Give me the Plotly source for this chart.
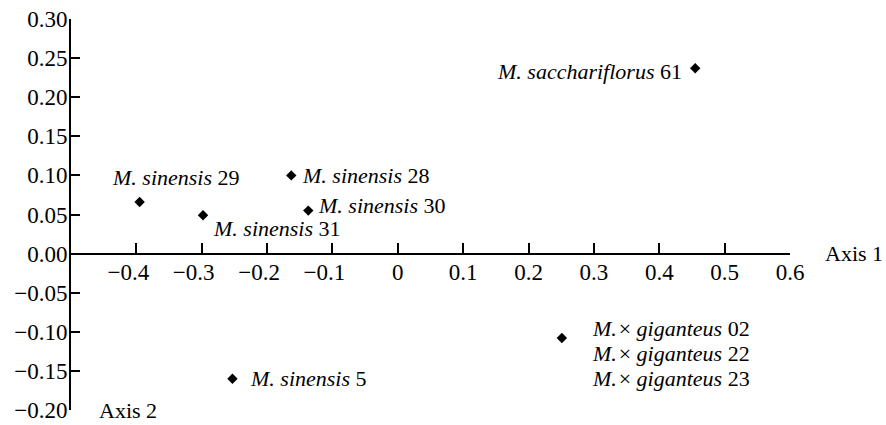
import plotly.graph_objects as go

# ---- data ----
axis1_scores = [0.455, -0.395, -0.163, -0.137, -0.298, -0.253, 0.251]
axis2_scores = [0.237, 0.066, 0.100, 0.055, 0.049, -0.160, -0.108]
point_labels = [
    ["<i>M. sacchariflorus</i> 61"],
    ["<i>M. sinensis</i> 29"],
    ["<i>M. sinensis</i> 28"],
    ["<i>M. sinensis</i> 30"],
    ["<i>M. sinensis</i> 31"],
    ["<i>M. sinensis</i> 5"],
    ["<i>M.</i>\u200a× <i>giganteus</i> 02",
     "<i>M.</i>\u200a× <i>giganteus</i> 22",
     "<i>M.</i>\u200a× <i>giganteus</i> 23"],
]
x_tickvals = [-0.4, -0.3, -0.2, -0.1, 0.0, 0.1, 0.2, 0.3, 0.4, 0.5, 0.6]
x_ticktext = ["\u22120.4", "\u22120.3", "\u22120.2", "\u22120.1", "0", "0.1", "0.2", "0.3", "0.4", "0.5", "0.6"]
y_tickvals = [0.30, 0.25, 0.20, 0.15, 0.10, 0.05, 0.00, -0.05, -0.10, -0.15, -0.20]
y_ticktext = ["0.30", "0.25", "0.20", "0.15", "0.10", "0.05", "0.00", "\u22120.05", "\u22120.10", "\u22120.15", "\u22120.20"]

# ---- label placement (pixels) ----
label_anchor = ["right", "left", "left", "left", "left", "left", "left"]
label_dx = [-13, -28, 11, 10, 10, 18, 30]
label_dy = [-3, 24, 0, 5, -13, 0, 10]
line_step = 25
NEG_PAD = "\u2002\u2009"  # keeps the number part of negative x labels centred on its tick

FONT = "Liberation Serif"
FS = 22
TFS = 23

fig = go.Figure()
fig.add_trace(go.Scatter(
    x=axis1_scores, y=axis2_scores, mode="markers",
    marker=dict(symbol="diamond", size=8, color="black", line=dict(width=0)),
    hoverinfo="skip", showlegend=False,
))

annotations = []
for i, lines in enumerate(point_labels):
    for j, txt in enumerate(lines):
        annotations.append(dict(
            x=axis1_scores[i], y=axis2_scores[i], xref="x", yref="y",
            text=txt, showarrow=False,
            xanchor=label_anchor[i], yanchor="middle",
            xshift=label_dx[i], yshift=label_dy[i] - j * line_step,
            font=dict(family=FONT, size=FS, color="black"),
            borderpad=0, borderwidth=0,
        ))

annotations.append(dict(x=0.6, y=0, xref="x", yref="y", text="Axis 1", showarrow=False,
                        xanchor="left", yanchor="middle", xshift=35,
                        font=dict(family=FONT, size=FS, color="black"), borderpad=0, borderwidth=0))
annotations.append(dict(x=-0.5, y=-0.2, xref="x", yref="y", text="Axis 2", showarrow=False,
                        xanchor="left", yanchor="middle", xshift=28,
                        font=dict(family=FONT, size=FS, color="black"), borderpad=0, borderwidth=0))

x_labels_shown = [t + NEG_PAD if t.startswith("\u2212") else t for t in x_ticktext]

fig.update_layout(
    width=886, height=425,
    margin=dict(l=71, r=96, t=19, b=15, autoexpand=False),
    plot_bgcolor="white", paper_bgcolor="white",
    font=dict(family=FONT, size=FS, color="black"),
    annotations=annotations,
    xaxis=dict(
        range=[-0.5, 0.6], tickvals=x_tickvals, ticktext=x_labels_shown,
        showgrid=False, zeroline=False, showline=True, linecolor="black", linewidth=2,
        ticks="inside", ticklen=10, tickwidth=1.5, tickcolor="black",
        anchor="free", position=0.4, tickfont=dict(family=FONT, size=TFS, color="black"),
        ticklabelstandoff=-2, ticklabeloverflow="allow",
    ),
    yaxis=dict(
        range=[-0.2, 0.3], tickvals=y_tickvals, ticktext=y_ticktext,
        showgrid=False, zeroline=False, showline=True, linecolor="black", linewidth=2,
        ticks="inside", ticklen=9, tickwidth=1.5, tickcolor="black",
        tickfont=dict(family=FONT, size=TFS, color="black"),
        ticklabelstandoff=-3, ticklabeloverflow="allow",
    ),
)

fig.write_html("out.html", config={"displayModeBar": False},
               post_script="document.body.style.margin='0';document.body.style.overflow='hidden';")
